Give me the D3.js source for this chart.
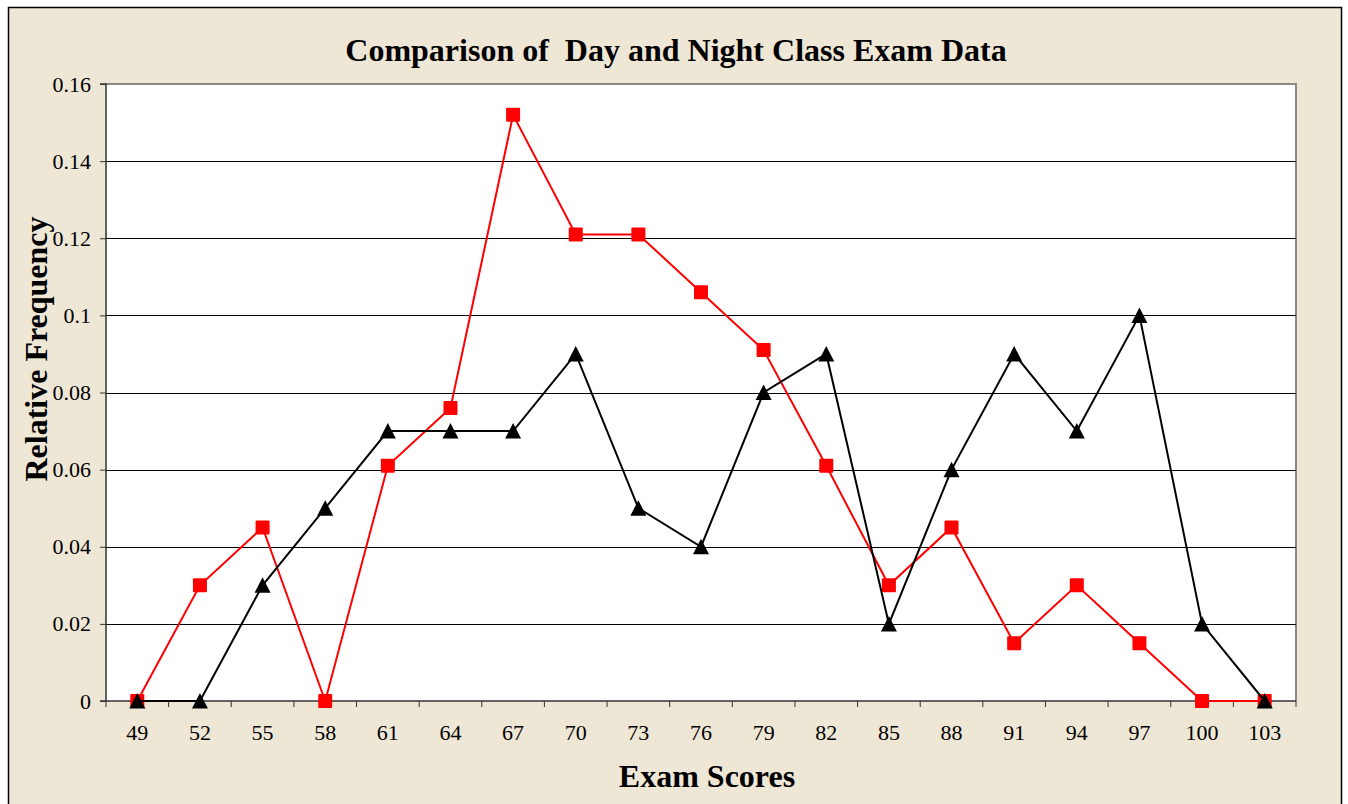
<!DOCTYPE html>
<html>
<head>
<meta charset="utf-8">
<script src="https://cdn.jsdelivr.net/npm/d3@7"></script>
<style>
  body { margin: 0; background: #fff; }
  text { font-family: "Liberation Serif", "Times New Roman", serif; }
</style>
</head>
<body>
<script>
// data
let scores = [49, 52, 55, 58, 61, 64, 67, 70, 73, 76, 79, 82, 85, 88, 91, 94, 97, 100, 103];
let redSeries = [0, 0.03, 0.045, 0, 0.061, 0.076, 0.152, 0.121, 0.121, 0.106, 0.091, 0.061, 0.03, 0.045, 0.015, 0.03, 0.015, 0, 0];
let blackSeries = [0, 0, 0.03, 0.05, 0.07, 0.07, 0.07, 0.09, 0.05, 0.04, 0.08, 0.09, 0.02, 0.06, 0.09, 0.07, 0.1, 0.02, 0];
let yTicks = [0, 0.02, 0.04, 0.06, 0.08, 0.1, 0.12, 0.14, 0.16];

let width = 1348;
let height = 804;
let plot = { left: 106, top: 84, right: 1296, bottom: 701 };

let svg = d3.select("body")
  .append("svg")
  .attr("width", width)
  .attr("height", height);

// outer frame
svg.append("rect")
  .attr("x", 8.5).attr("y", 7.5)
  .attr("width", 1333).attr("height", 810)
  .attr("fill", "#efe7d6")
  .attr("stroke", "#000")
  .attr("stroke-width", 1.5);

let x = d3.scaleBand()
  .domain(scores)
  .range([plot.left, plot.right]);

let y = d3.scaleLinear()
  .domain([0, 0.16])
  .range([plot.bottom, plot.top]);

let cx = (d) => x(d) + x.bandwidth() / 2;

// plot area
svg.append("rect")
  .attr("x", plot.left).attr("y", plot.top)
  .attr("width", plot.right - plot.left)
  .attr("height", plot.bottom - plot.top)
  .attr("fill", "#fff");

// gray border top and right
svg.append("path")
  .attr("d", `M${plot.left},${plot.top}H${plot.right}V${plot.bottom}`)
  .attr("fill", "none")
  .attr("stroke", "#888")
  .attr("stroke-width", 2);

// gridlines
svg.append("g")
  .selectAll("line")
  .data(yTicks.slice(1, -1))
  .join("line")
  .attr("x1", plot.left).attr("x2", plot.right)
  .attr("y1", (d) => Math.round(y(d)) + 0.5)
  .attr("y2", (d) => Math.round(y(d)) + 0.5)
  .attr("stroke", "#000")
  .attr("stroke-width", 1);

// y axis
let yAxis = svg.append("g")
  .attr("transform", `translate(${plot.left},0)`)
  .call(d3.axisLeft(y).tickValues(yTicks).tickSize(6).tickPadding(9).tickFormat((d) => d3.format("")(+d.toFixed(2))));

// x axis with ticks on band edges
let xAxis = svg.append("g")
  .attr("transform", `translate(0,${plot.bottom})`)
  .call(d3.axisBottom(x).tickSize(0).tickPadding(23));

xAxis.selectAll(".edge")
  .data(scores.concat(["end"]))
  .join("line")
  .attr("class", "edge")
  .attr("x1", (d) => d === "end" ? plot.right : x(d))
  .attr("x2", (d) => d === "end" ? plot.right : x(d))
  .attr("y1", 0).attr("y2", 6)
  .attr("stroke", "#333");

[yAxis, xAxis].forEach((g) => {
  g.select(".domain").attr("stroke", "#333").attr("stroke-width", 1.5);
  g.selectAll(".tick line").attr("stroke", "#333");
  g.selectAll(".tick text")
    .attr("font-family", "Liberation Serif, serif")
    .attr("font-size", 22)
    .attr("fill", "#000");
});
yAxis.select(".domain").attr("d", `M-6,${plot.top}H0V${plot.bottom}H-6`);
xAxis.select(".domain").attr("d", `M${plot.left},0H${plot.right}`);

let line = d3.line()
  .x((d, i) => cx(scores[i]))
  .y((d) => y(d));

// red series (squares)
svg.append("path")
  .attr("d", line(redSeries))
  .attr("fill", "none")
  .attr("stroke", "#ff0000")
  .attr("stroke-width", 2);

svg.append("g")
  .selectAll("rect")
  .data(redSeries)
  .join("rect")
  .attr("x", (d, i) => cx(scores[i]) - 7)
  .attr("y", (d) => y(d) - 7)
  .attr("width", 14).attr("height", 14)
  .attr("rx", 1)
  .attr("fill", "#ff0000");

// black series (triangles)
svg.append("path")
  .attr("d", line(blackSeries))
  .attr("fill", "none")
  .attr("stroke", "#000")
  .attr("stroke-width", 2);

svg.append("g")
  .selectAll("path")
  .data(blackSeries)
  .join("path")
  .attr("transform", (d, i) => `translate(${cx(scores[i])},${y(d)})`)
  .attr("d", "M0,-8L8,7.5L-8,7.5Z")
  .attr("fill", "#000");

// titles
svg.append("text")
  .attr("x", 676).attr("y", 61)
  .attr("text-anchor", "middle")
  .attr("font-size", 32)
  .attr("font-weight", "bold")
  .style("white-space", "pre")
  .text("Comparison of  Day and Night Class Exam Data");

svg.append("text")
  .attr("x", 707).attr("y", 787)
  .attr("text-anchor", "middle")
  .attr("font-size", 32)
  .attr("font-weight", "bold")
  .text("Exam Scores");

svg.append("text")
  .attr("transform", "translate(47,349) rotate(-90)")
  .attr("text-anchor", "middle")
  .attr("font-size", 32)
  .attr("font-weight", "bold")
  .text("Relative Frequency");
</script>
</body>
</html>
